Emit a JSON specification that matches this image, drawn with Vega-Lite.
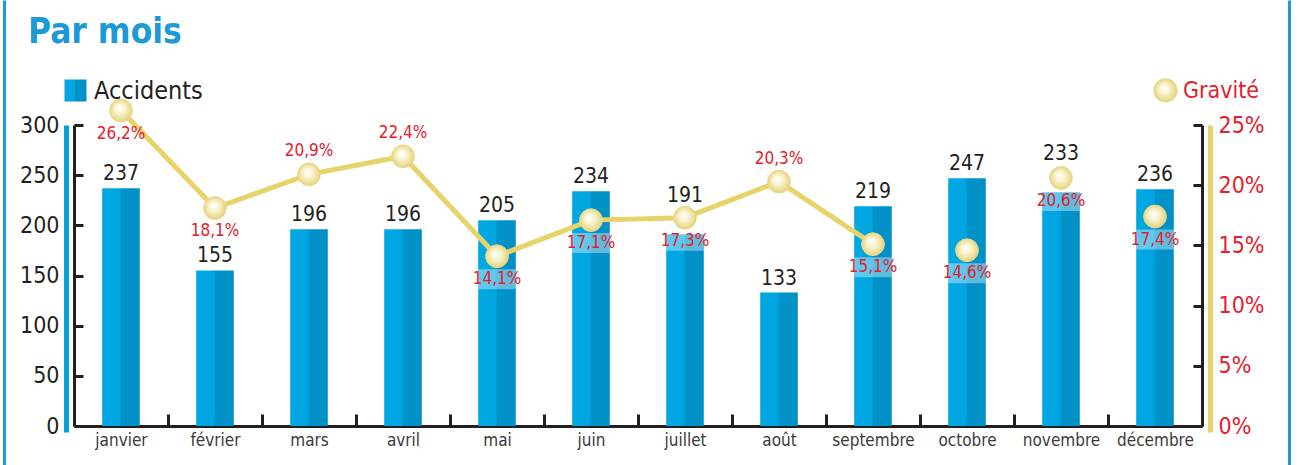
{
  "$schema": "https://vega.github.io/schema/vega-lite/v6.json",
  "autosize": {"type": "none"},
  "width": 1128,
  "height": 301,
  "padding": {"left": 74, "top": 125, "right": 95, "bottom": 39},
  "background": "white",
  "config": {
    "view": {"stroke": null},
    "font": "DejaVu Sans Condensed, sans-serif",
    "axis": {"grid": false, "labelFont": "DejaVu Sans Condensed, sans-serif"},
    "legend": {"labelFont": "DejaVu Sans Condensed, sans-serif", "padding": 0},
    "locale": {"number": {"decimal": ",", "thousands": " ", "grouping": [3], "currency": ["", " €"]}}
  },
  "title": {
    "text": "Par mois",
    "anchor": "start",
    "frame": "group",
    "fontSize": 35,
    "fontWeight": "bold",
    "color": "#1b9ad6",
    "font": "DejaVu Sans Condensed, sans-serif",
    "dx": -46,
    "offset": 28
  },
  "data": {
    "values": [
      {"mois": "janvier", "accidents": 237, "gravite": 0.262},
      {"mois": "février", "accidents": 155, "gravite": 0.181},
      {"mois": "mars", "accidents": 196, "gravite": 0.209},
      {"mois": "avril", "accidents": 196, "gravite": 0.224},
      {"mois": "mai", "accidents": 205, "gravite": 0.141},
      {"mois": "juin", "accidents": 234, "gravite": 0.171},
      {"mois": "juillet", "accidents": 191, "gravite": 0.173},
      {"mois": "août", "accidents": 133, "gravite": 0.203},
      {"mois": "septembre", "accidents": 219, "gravite": 0.151},
      {"mois": "octobre", "accidents": 247, "gravite": 0.146},
      {"mois": "novembre", "accidents": 233, "gravite": 0.206},
      {"mois": "décembre", "accidents": 236, "gravite": 0.174}
    ]
  },
  "encoding": {
    "x": {
      "field": "mois",
      "type": "nominal",
      "sort": null,
      "scale": {"paddingInner": 0.6, "paddingOuter": 0.3},
      "axis": {
        "title": null,
        "labelAngle": 0,
        "labelFontSize": 17,
        "labelColor": "#3a3a3a",
        "labelPadding": 18,
        "labelBaseline": "top",
        "labelOffset": -47,
        "domainColor": "#231f20",
        "domainWidth": 3,
        "tickColor": "#231f20",
        "tickWidth": 3,
        "tickSize": -12,
        "tickBand": "center",
        "tickOffset": 47
      }
    }
  },
  "layer": [
    {
      "layer": [
        {
          "mark": {
            "type": "bar",
            "fill": {
              "gradient": "linear",
              "x1": 0, "y1": 0, "x2": 1, "y2": 0,
              "stops": [
                {"offset": 0, "color": "#00a8e2"},
                {"offset": 0.48, "color": "#00a5e0"},
                {"offset": 0.5, "color": "#0092c9"},
                {"offset": 1, "color": "#0090c6"}
              ]
            }
          },
          "encoding": {
            "y": {
              "field": "accidents",
              "type": "quantitative",
              "scale": {"domain": [0, 300]},
              "axis": {
                "orient": "left",
                "title": null,
                "values": [0, 50, 100, 150, 200, 250, 300],
                "labelFontSize": 23,
                "labelColor": "#231f20",
                "labelPadding": 24,
                "domainColor": "#231f20",
                "domainWidth": 3,
                "tickColor": "#231f20",
                "tickWidth": 3,
                "tickSize": -9
              }
            },
            "opacity": {
              "datum": "Accidents",
              "type": "nominal",
              "scale": {"type": "ordinal", "range": [1, 1]},
              "legend": {
                "title": null,
                "orient": "none",
                "legendX": -11,
                "legendY": -47,
                "symbolType": "square",
                "symbolSize": 484,
                "symbolFillColor": "#00a3de",
                "symbolStrokeWidth": 0,
                "labelFontSize": 25,
                "labelColor": "#231f20",
                "labelOffset": 6,
                "encode": {"symbols": {"update": {"fill": {"value": "#00a3de"}, "opacity": {"value": 1}}}}
              }
            }
          }
        },
        {
          "transform": [{"filter": {"not": {"field": "mois", "oneOf": ["juillet", "novembre"]}}}],
          "mark": {"type": "text", "baseline": "bottom", "dy": -4, "fontSize": 21, "color": "#231f20"},
          "encoding": {
            "y": {"field": "accidents", "type": "quantitative"},
            "text": {"field": "accidents", "type": "quantitative"}
          }
        },
        {
          "transform": [{"filter": {"field": "mois", "oneOf": ["juillet", "novembre"]}}],
          "mark": {"type": "text", "baseline": "bottom", "dy": -28, "fontSize": 21, "color": "#231f20"},
          "encoding": {
            "y": {"field": "accidents", "type": "quantitative"},
            "text": {"field": "accidents", "type": "quantitative"}
          }
        }
      ]
    },
    {
      "layer": [
        {
          "transform": [{"filter": {"not": {"field": "mois", "oneOf": ["mars", "avril", "août"]}}}],
          "mark": {"type": "rect", "color": "white", "opacity": 0.38, "yOffset": 13, "y2Offset": 33},
          "encoding": {
            "y": {"field": "gravite", "type": "quantitative"},
            "y2": {"field": "gravite"}
          }
        },
        {
          "transform": [{"filter": {"field": "mois", "oneOf": ["janvier", "février", "mars", "avril", "mai", "juin", "juillet", "août", "septembre"]}}],
          "mark": {"type": "line", "color": "#e6d36a", "strokeWidth": 5},
          "encoding": {
            "y": {"field": "gravite", "type": "quantitative"}
          }
        },
        {
          "mark": {
            "type": "point",
            "filled": true,
            "opacity": 1,
            "fill": {
              "gradient": "radial",
              "x1": 0.42, "y1": 0.38, "r1": 0,
              "x2": 0.5, "y2": 0.5, "r2": 0.55,
              "stops": [
                {"offset": 0, "color": "#ffffff"},
                {"offset": 0.35, "color": "#fbf5d6"},
                {"offset": 1, "color": "#e3cf72"}
              ]
            },
            "stroke": "#e8d88a",
            "strokeWidth": 1
          },
          "encoding": {
            "y": {"field": "gravite", "type": "quantitative"},
            "size": {
              "datum": "Gravité",
              "type": "nominal",
              "scale": {"type": "ordinal", "range": [520, 520]},
              "legend": {
                "title": null,
                "orient": "none",
                "legendX": 1079,
                "legendY": -47,
                "symbolType": "circle",
                "labelFontSize": 23,
                "labelColor": "#e4202b",
                "labelOffset": 5,
                "encode": {
                  "symbols": {
                    "update": {
                      "fill": {"value": {
                        "gradient": "radial",
                        "x1": 0.42, "y1": 0.38, "r1": 0,
                        "x2": 0.5, "y2": 0.5, "r2": 0.55,
                        "stops": [
                          {"offset": 0, "color": "#ffffff"},
                          {"offset": 0.35, "color": "#fbf5d6"},
                          {"offset": 1, "color": "#e3cf72"}
                        ]
                      }},
                      "size": {"value": 520},
                      "stroke": {"value": "#e8d88a"},
                      "strokeWidth": {"value": 1},
                      "opacity": {"value": 1}
                    }
                  }
                }
              }
            }
          }
        },
        {
          "transform": [{"filter": {"not": {"field": "mois", "oneOf": ["mars", "avril", "août"]}}}],
          "mark": {"type": "text", "baseline": "middle", "dy": 23, "fontSize": 17, "color": "#e4202b"},
          "encoding": {
            "y": {"field": "gravite", "type": "quantitative"},
            "text": {"field": "gravite", "type": "quantitative", "format": ".1%"}
          }
        },
        {
          "transform": [{"filter": {"field": "mois", "oneOf": ["mars", "avril", "août"]}}],
          "mark": {"type": "text", "baseline": "middle", "dy": -23, "fontSize": 17, "color": "#e4202b"},
          "encoding": {
            "y": {"field": "gravite", "type": "quantitative"},
            "text": {"field": "gravite", "type": "quantitative", "format": ".1%"}
          }
        }
      ],
      "encoding": {
        "y": {
          "field": "gravite",
          "type": "quantitative",
          "scale": {"domain": [0, 0.25]},
          "axis": {
            "orient": "right",
            "title": null,
            "values": [0, 0.05, 0.1, 0.15, 0.2, 0.25],
            "format": ".0%",
            "labelFontSize": 23,
            "labelColor": "#e4202b",
            "labelPadding": 25,
            "domainColor": "#231f20",
            "domainWidth": 3,
            "tickColor": "#231f20",
            "tickWidth": 3,
            "tickSize": -9
          }
        }
      }
    },
    {
      "mark": {"type": "rule", "opacity": 0},
      "encoding": {
        "x": null,
        "y": {
          "field": "accidents",
          "type": "quantitative",
          "scale": {"domain": [0, 300], "range": [307, 0]},
          "axis": {"orient": "left", "offset": 8, "title": null, "labels": false, "ticks": false, "domainColor": "#00a3de", "domainWidth": 5}
        }
      }
    },
    {
      "mark": {"type": "rule", "opacity": 0},
      "encoding": {
        "x": null,
        "y": {
          "field": "accidents",
          "type": "quantitative",
          "scale": {"domain": [0, 300], "range": [307, 0]},
          "axis": {"orient": "right", "offset": 8, "title": null, "labels": false, "ticks": false, "domainColor": "#e6d36a", "domainWidth": 5}
        }
      }
    },
    {
      "mark": {"type": "rule", "opacity": 0},
      "encoding": {
        "x": null,
        "y": {
          "field": "accidents",
          "type": "quantitative",
          "scale": {"domain": [0, 300], "range": [340, -125]},
          "axis": {"orient": "left", "offset": 70, "title": null, "labels": false, "ticks": false, "domainColor": "#1a9cd8", "domainWidth": 3}
        }
      }
    },
    {
      "mark": {"type": "rule", "opacity": 0},
      "encoding": {
        "x": null,
        "y": {
          "field": "accidents",
          "type": "quantitative",
          "scale": {"domain": [0, 300], "range": [340, -125]},
          "axis": {"orient": "right", "offset": 87, "title": null, "labels": false, "ticks": false, "domainColor": "#1a9cd8", "domainWidth": 3}
        }
      }
    }
  ],
  "resolve": {"scale": {"y": "independent", "opacity": "independent", "size": "independent"}}
}
